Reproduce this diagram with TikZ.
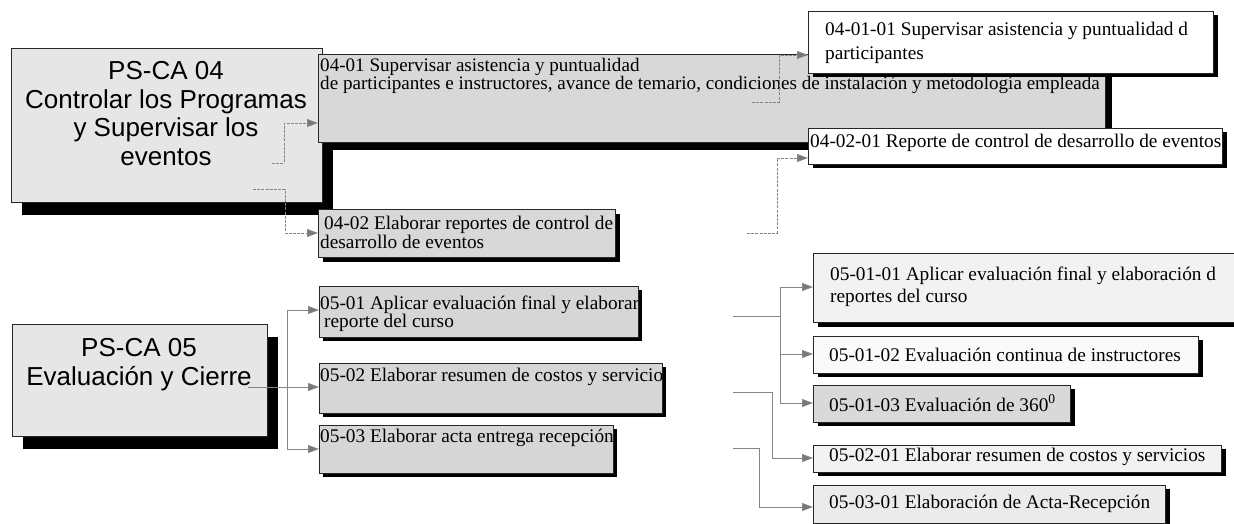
\documentclass[tikz,border=0pt]{standalone}
\usepackage{fontspec}
\setmainfont{Liberation Serif}
\newfontfamily\headfont{Liberation Sans}
\usetikzlibrary{arrows.meta}

\definecolor{headfill}{HTML}{E6E6E6}
\definecolor{taskfill}{HTML}{D8D8D8}
\definecolor{subfill}{HTML}{D6D6D6}
\definecolor{linkgray}{HTML}{858585}

% multi-line labels are placed by the baseline of their last line
\tikzset{
  card/.style={draw=black!85, line width=0.9pt, rectangle, anchor=north west, inner sep=0pt},
  lbl/.style={anchor=base west, inner sep=0pt, align=left, font=\fontsize{19.3}{19}\selectfont},
  headlbl/.style={anchor=base, inner sep=0pt, align=center, font=\headfont\fontsize{26}{28.5}\selectfont},
  conn/.style={draw=linkgray, line width=0.8pt, -{Triangle[length=11pt,width=8pt,fill=linkgray!90!black]}},
  dconn/.style={conn, dash pattern=on 3pt off 1.2pt},
  plain/.style={draw=linkgray, line width=0.8pt},
}

% box with a drop shadow: name, x1, y1, x2, y2, fill, shadow dx, shadow dy
\newcommand\cardbox[8]{%
  \fill[black] ({#2+#7},{#3+#8}) rectangle ({#4+#7},{#5+#8});
  \node[card, fill=#6, minimum width={(#4-#2)*1pt}, minimum height={(#5-#3)*1pt}] (#1) at (#2,#3) {};
}

\begin{document}
\begin{tikzpicture}[x=1pt,y=-1pt]
\useasboundingbox (0,0) rectangle (1234,524);
\clip (0,0) rectangle (1234,524);

% ---- PS-CA 04 branch ----
\cardbox{p04}{11}{48}{322}{202}{headfill}{11}{13}
\node[headlbl] (h04) at (166,165) {PS-CA 04\\Controlar los Programas\\y Supervisar los\\eventos};

\cardbox{b0401}{318}{54}{1105}{142}{taskfill}{7}{8}
\node[lbl, font=\fontsize{19.1}{18}\selectfont] (t0401) at (320,90)
  {04-01 Supervisar asistencia y puntualidad\\de participantes e instructores, avance de temario, condiciones de instalación y metodología empleada};

\cardbox{b0402}{318}{209}{615}{257}{taskfill}{5}{5}
\node[lbl] (t0402) at (320,248) {\hspace{4pt}04-02 Elaborar reportes de control de\\desarrollo de eventos};

\cardbox{b040101}{808}{11}{1213}{73}{white}{5}{4}
\node[lbl, font=\fontsize{19.3}{24}\selectfont] (t040101) at (825,60)
  {04-01-01 Supervisar asistencia y puntualidad d\\participantes};

\cardbox{b040201}{808}{128}{1222}{164}{white}{5}{4}
\node[lbl] (t040201) at (810,147) {04-02-01 Reporte de control de desarrollo de eventos};

% ---- PS-CA 05 branch ----
\cardbox{p05}{12}{324}{267}{436}{headfill}{11}{13}
\node[headlbl] (h05) at (139,385) {PS-CA 05\\Evaluación y Cierre};

\cardbox{b0501}{319}{286}{638}{337}{subfill}{4}{4}
\node[lbl, font=\fontsize{19.3}{18}\selectfont] (t0501) at (320,327)
  {05-01 Aplicar evaluación final y elaborar\\\hspace{4pt}reporte del curso};

\cardbox{b0502}{319}{363}{662}{413}{subfill}{4}{4}
\node[lbl] (t0502) at (320,381) {05-02 Elaborar resumen de costos y servicio};

\cardbox{b0503}{319}{425}{613}{473}{subfill}{4}{4}
\node[lbl] (t0503) at (320,442) {05-03 Elaborar acta entrega recepción};

\cardbox{b050101}{813}{253}{1240}{322}{black!5}{5}{5}
\node[lbl, font=\fontsize{19.3}{22}\selectfont] (t050101) at (830,302)
  {05-01-01 Aplicar evaluación final y elaboración d\\reportes del curso};

\cardbox{b050102}{813}{336}{1198}{373}{black!2}{5}{4}
\node[lbl] (t050102) at (829,361) {05-01-02 Evaluación continua de instructores};

\cardbox{b050103}{813}{385}{1070}{422}{black!15}{5}{4}
\node[lbl] (t050103) at (829,411) {05-01-03 Evaluación de 360\textsuperscript{0}};

\cardbox{b050201}{813}{445}{1221}{472}{black!5}{5}{4}
\node[lbl] (t050201) at (829,461) {05-02-01 Elaborar resumen de costos y servicios};

\cardbox{b050301}{813}{485}{1165}{523}{black!8}{5}{4}
\node[lbl] (t050301) at (829,508) {05-03-01 Elaboración de Acta-Recepción};

% ---- connector stubs ----
\coordinate (s04a) at (272,163);
\coordinate (s04b) at (253,189);
\coordinate (s0401) at (752,102);
\coordinate (s0402) at (747,233);
\coordinate (s05) at (248,387);
\coordinate (j05) at (287,387);
\coordinate (s0501) at (733,316);
\coordinate (j0501) at (780,316);
\coordinate (s0502) at (733,392);
\coordinate (s0503) at (733,448);

% ---- connectors ----
\draw[dconn] (s04a) -- (284,163) |- (b0401.west |- 0,123);
\draw[dconn] (s04b) -- (285,189) |- (b0402.west |- 0,233);
\draw[dconn] (s0401) -- (779,102) |- (b040101.west |- 0,55);
\draw[dconn] (s0402) -- (777,233) |- (b040201.west |- 0,158);

\draw[plain] (s05) -- (j05);
\draw[conn] (j05) |- (b0501.west |- 0,310);
\draw[conn] (j05) -- (b0502.west |- j05);
\draw[conn] (j05) |- (b0503.west |- 0,449);

\draw[plain] (s0501) -- (j0501);
\draw[conn] (j0501) |- (b050101.west |- 0,287);
\draw[conn] (j0501) |- (b050102.west |- 0,354);
\draw[conn] (j0501) |- (b050103.west |- 0,403);
\draw[conn] (s0502) -- (772,392) |- (b050201.west |- 0,458);
\draw[conn] (s0503) -- (759,448) |- (b050301.west |- 0,507);
\end{tikzpicture}
\end{document}
